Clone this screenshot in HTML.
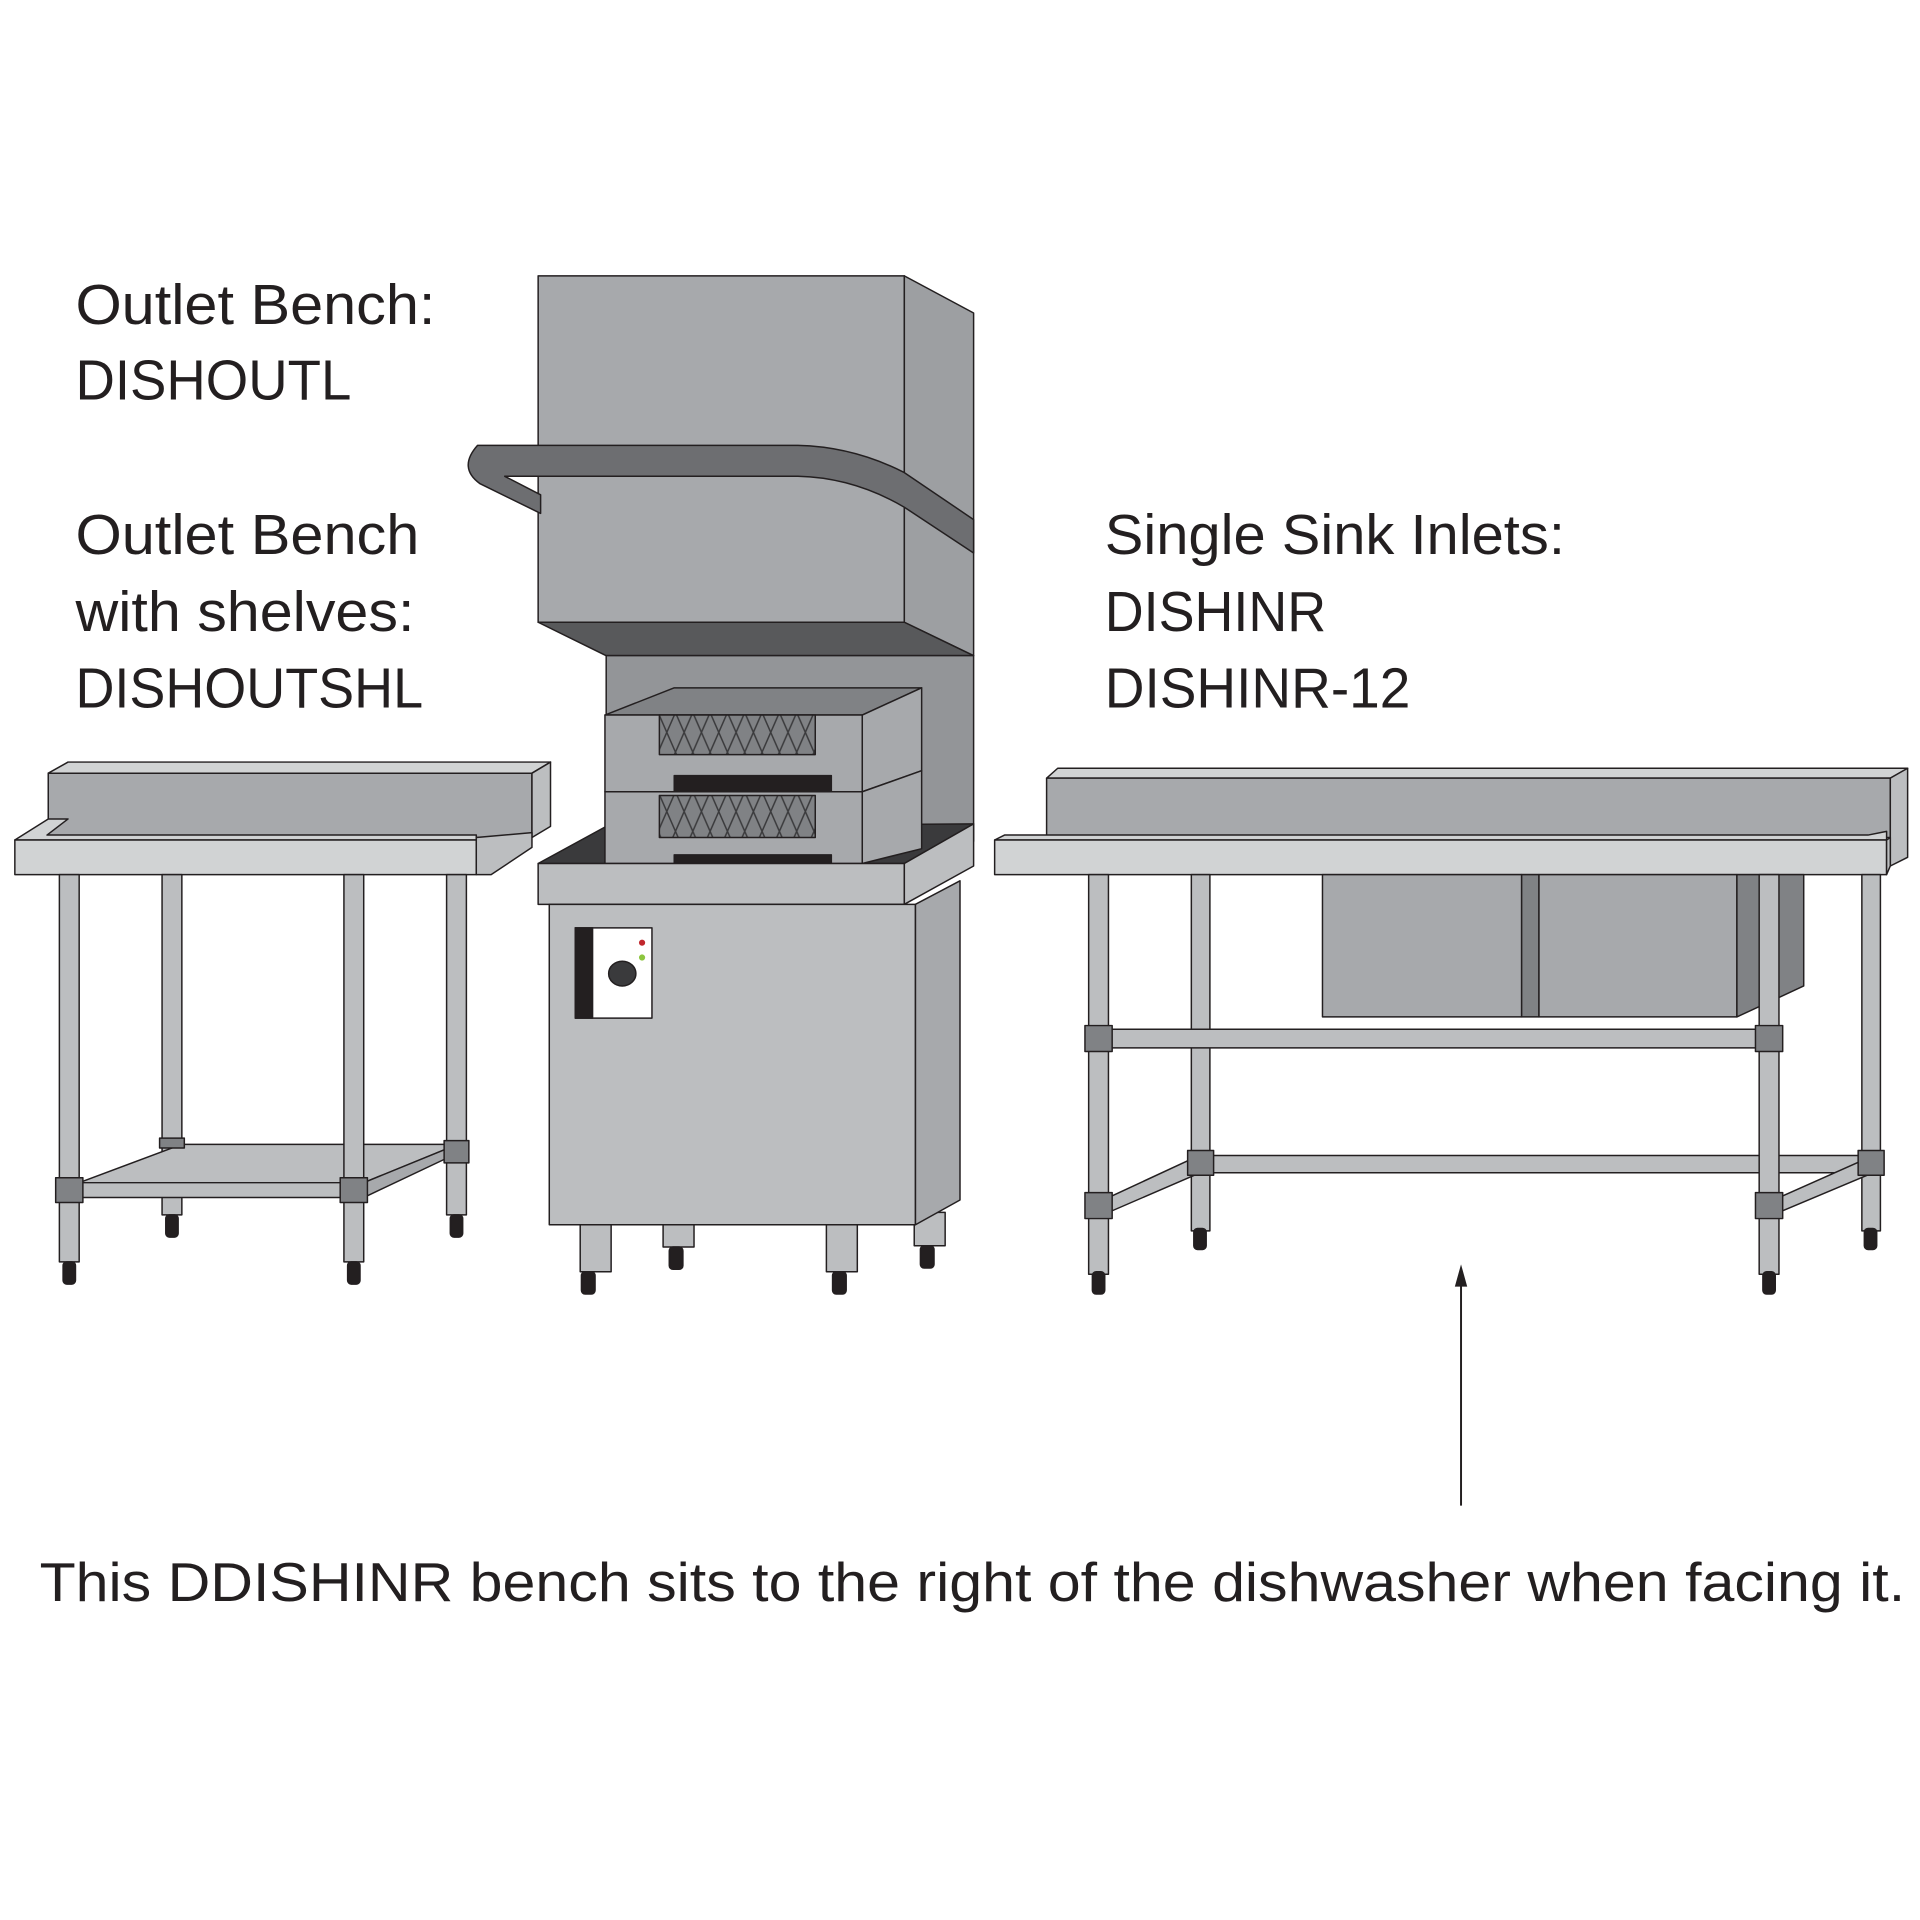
<!DOCTYPE html>
<html><head><meta charset="utf-8"><style>
html,body{margin:0;padding:0;background:#fff}
svg{display:block}
text{font-family:"Liberation Sans",sans-serif;fill:#231f20}
</style></head><body>
<svg width="1920" height="1920" viewBox="0 0 1552 1552" xmlns="http://www.w3.org/2000/svg">
<defs>
<pattern id="mesh" width="14" height="32" patternUnits="userSpaceOnUse">
<rect width="14" height="32" fill="#808285"/>
<path d="M0,0 L14,32 M14,0 L0,32" stroke="#3a3a3c" stroke-width="1.2"/>
</pattern>
</defs>
<g stroke="#231f20" stroke-width="1.2" stroke-linejoin="round">
<!-- ===== Dishwasher ===== -->
<rect x="435" y="223" width="296" height="280" fill="#a7a9ac"/>
<polygon points="731,223 787,253 787,530 731,503" fill="#9d9fa2"/>
<polygon points="435,503 731,503 787,530 490,530" fill="#58595b"/>
<path d="M437,400 L437,415 L388,391 Q370,378 386,360 L645,360 Q690,361 731,382 L787,420 L787,447 L731,410 Q690,386 645,385 L408,385 Z" fill="#6d6e71"/>
<rect x="490" y="530" width="297" height="150" fill="#939598"/>
<!-- tray -->
<polygon points="435,698 490,668 787,666 731,698" fill="#3a3a3c"/>
<!-- upper rack -->
<polygon points="489,578 545,556 745,556 697,578" fill="#808285"/>
<rect x="489" y="578" width="208" height="62" fill="#a7a9ac"/>
<polygon points="697,578 745,556 745,623 697,640" fill="#a7a9ac"/>
<rect x="533" y="578" width="126" height="32" fill="url(#mesh)"/>
<rect x="545" y="627" width="127" height="15" fill="#231f20"/>
<!-- lower rack -->
<rect x="489" y="640" width="208" height="58" fill="#a7a9ac"/>
<polygon points="697,640 745,623 745,686 697,698" fill="#a7a9ac"/>
<rect x="533" y="643" width="126" height="34" fill="url(#mesh)"/>
<rect x="545" y="691" width="127" height="7" fill="#231f20"/>
<!-- counter -->
<rect x="435" y="698" width="296" height="33" fill="#bcbec0"/>
<polygon points="731,698 787,666 787,700 731,731" fill="#bcbec0"/>
<!-- legs -->
<rect x="469" y="990" width="25" height="38" fill="#bcbec0"/>
<rect x="536" y="990" width="25" height="18" fill="#bcbec0"/>
<rect x="668" y="990" width="25" height="38" fill="#bcbec0"/>
<rect x="739" y="980" width="25" height="27" fill="#bcbec0"/>
<rect x="470" y="1028" width="11" height="18" rx="3" fill="#231f20"/>
<rect x="541" y="1008" width="11" height="18" rx="3" fill="#231f20"/>
<rect x="673" y="1028" width="11" height="18" rx="3" fill="#231f20"/>
<rect x="744" y="1007" width="11" height="18" rx="3" fill="#231f20"/>
<!-- cabinet -->
<rect x="444" y="731" width="296" height="259" fill="#bcbec0"/>
<polygon points="740,731 776,712 776,970 740,990" fill="#a7a9ac"/>
<rect x="465" y="750" width="62" height="73" fill="#fff"/>
<rect x="465" y="750" width="14" height="73" fill="#231f20"/>
<ellipse cx="503" cy="787" rx="11" ry="10" fill="#3a3a3c"/>
<circle cx="519" cy="762" r="2.5" fill="#c1272d" stroke="none"/>
<circle cx="519" cy="774" r="2.5" fill="#8dc63f" stroke="none"/>

<!-- ===== Left bench ===== -->
<polygon points="39,625 55,616 445,616 430,625" fill="#d1d3d4"/>
<rect x="39" y="625" width="391" height="52" fill="#a7a9ac"/>
<polygon points="430,625 445,616 445,668 430,677" fill="#bcbec0"/>
<polygon points="12,679 39,662 55,662 38,675 385,675 385,679" fill="#d1d3d4"/>
<rect x="12" y="679" width="373" height="28" fill="#d1d3d4"/>
<polygon points="385,677 430,673 430,685 397,707 385,707" fill="#bcbec0"/>
<rect x="131" y="707" width="16" height="275" fill="#bcbec0"/>
<rect x="361" y="707" width="16" height="275" fill="#bcbec0"/>
<rect x="134" y="982" width="10" height="18" rx="3" fill="#231f20"/>
<rect x="364" y="982" width="10" height="18" rx="3" fill="#231f20"/>
<polygon points="64,956 147,925 370,925 294,956" fill="#bcbec0"/>
<rect x="48" y="956" width="246" height="12" fill="#bcbec0"/>
<polygon points="294,956 370,925 370,932 294,968" fill="#a7a9ac"/>
<rect x="129" y="920" width="20" height="8" fill="#808285"/>
<rect x="359" y="922" width="20" height="18" fill="#808285"/>
<rect x="48" y="707" width="16" height="313" fill="#bcbec0"/>
<rect x="278" y="707" width="16" height="313" fill="#bcbec0"/>
<rect x="51" y="1020" width="10" height="18" rx="3" fill="#231f20"/>
<rect x="281" y="1020" width="10" height="18" rx="3" fill="#231f20"/>
<rect x="45" y="952" width="22" height="20" fill="#808285"/>
<rect x="275" y="952" width="22" height="20" fill="#808285"/>

<!-- ===== Right bench ===== -->
<polygon points="846,629 855,621 1542,621 1528,629" fill="#d1d3d4"/>
<rect x="846" y="629" width="682" height="48" fill="#a7a9ac"/>
<polygon points="1528,629 1542,621 1542,693 1528,700" fill="#bcbec0"/>
<polygon points="804,679 812,675 1510,675 1525,672 1525,679" fill="#d1d3d4"/>
<rect x="804" y="679" width="721" height="28" fill="#d1d3d4"/>
<polygon points="1525,679 1528,677 1528,700 1525,707" fill="#bcbec0"/>
<rect x="1069" y="707" width="161" height="115" fill="#a7a9ac"/>
<rect x="1230" y="707" width="14" height="115" fill="#808285"/>
<rect x="1244" y="707" width="160" height="115" fill="#a7a9ac"/>
<polygon points="1404,707 1458,707 1458,797 1404,822" fill="#808285"/>
<rect x="963" y="707" width="15" height="288" fill="#bcbec0"/>
<rect x="1505" y="707" width="15" height="288" fill="#bcbec0"/>
<rect x="965" y="993" width="10" height="17" rx="3" fill="#231f20"/>
<rect x="1507" y="993" width="10" height="17" rx="3" fill="#231f20"/>
<rect x="978" y="934" width="527" height="14" fill="#bcbec0"/>
<polygon points="896,968 965,936 970,948 896,980" fill="#bcbec0"/>
<polygon points="1438,968 1510,936 1514,948 1438,980" fill="#bcbec0"/>
<rect x="960" y="930" width="21" height="20" fill="#808285"/>
<rect x="1502" y="930" width="21" height="20" fill="#808285"/>
<rect x="896" y="832" width="526" height="15" fill="#bcbec0"/>
<rect x="880" y="707" width="16" height="323" fill="#bcbec0"/>
<rect x="1422" y="707" width="16" height="323" fill="#bcbec0"/>
<rect x="883" y="1028" width="10" height="18" rx="3" fill="#231f20"/>
<rect x="1425" y="1028" width="10" height="18" rx="3" fill="#231f20"/>
<rect x="877" y="829" width="22" height="21" fill="#808285"/>
<rect x="1419" y="829" width="22" height="21" fill="#808285"/>
<rect x="877" y="964" width="22" height="21" fill="#808285"/>
<rect x="1419" y="964" width="22" height="21" fill="#808285"/>
</g>

<line x1="1181" y1="1217" x2="1181" y2="1034" stroke="#231f20" stroke-width="1.6"/>
<polygon points="1181,1022 1176,1040 1186,1040" fill="#231f20"/>

<g font-size="46">
<text x="61" y="262" textLength="291" lengthAdjust="spacingAndGlyphs">Outlet Bench:</text>
<text x="61" y="323" textLength="223" lengthAdjust="spacingAndGlyphs">DISHOUTL</text>
<text x="61" y="448" textLength="278" lengthAdjust="spacingAndGlyphs">Outlet Bench</text>
<text x="61" y="510" textLength="274" lengthAdjust="spacingAndGlyphs">with shelves:</text>
<text x="61" y="572" textLength="281" lengthAdjust="spacingAndGlyphs">DISHOUTSHL</text>
<text x="893" y="448" textLength="372" lengthAdjust="spacingAndGlyphs">Single Sink Inlets:</text>
<text x="893" y="510" textLength="179" lengthAdjust="spacingAndGlyphs">DISHINR</text>
<text x="893" y="572" textLength="247" lengthAdjust="spacingAndGlyphs">DISHINR-12</text>
</g>
<text x="32" y="1294" font-size="44" textLength="1508" lengthAdjust="spacingAndGlyphs">This DDISHINR bench sits to the right of the dishwasher when facing it.</text>
</svg>
</body></html>
